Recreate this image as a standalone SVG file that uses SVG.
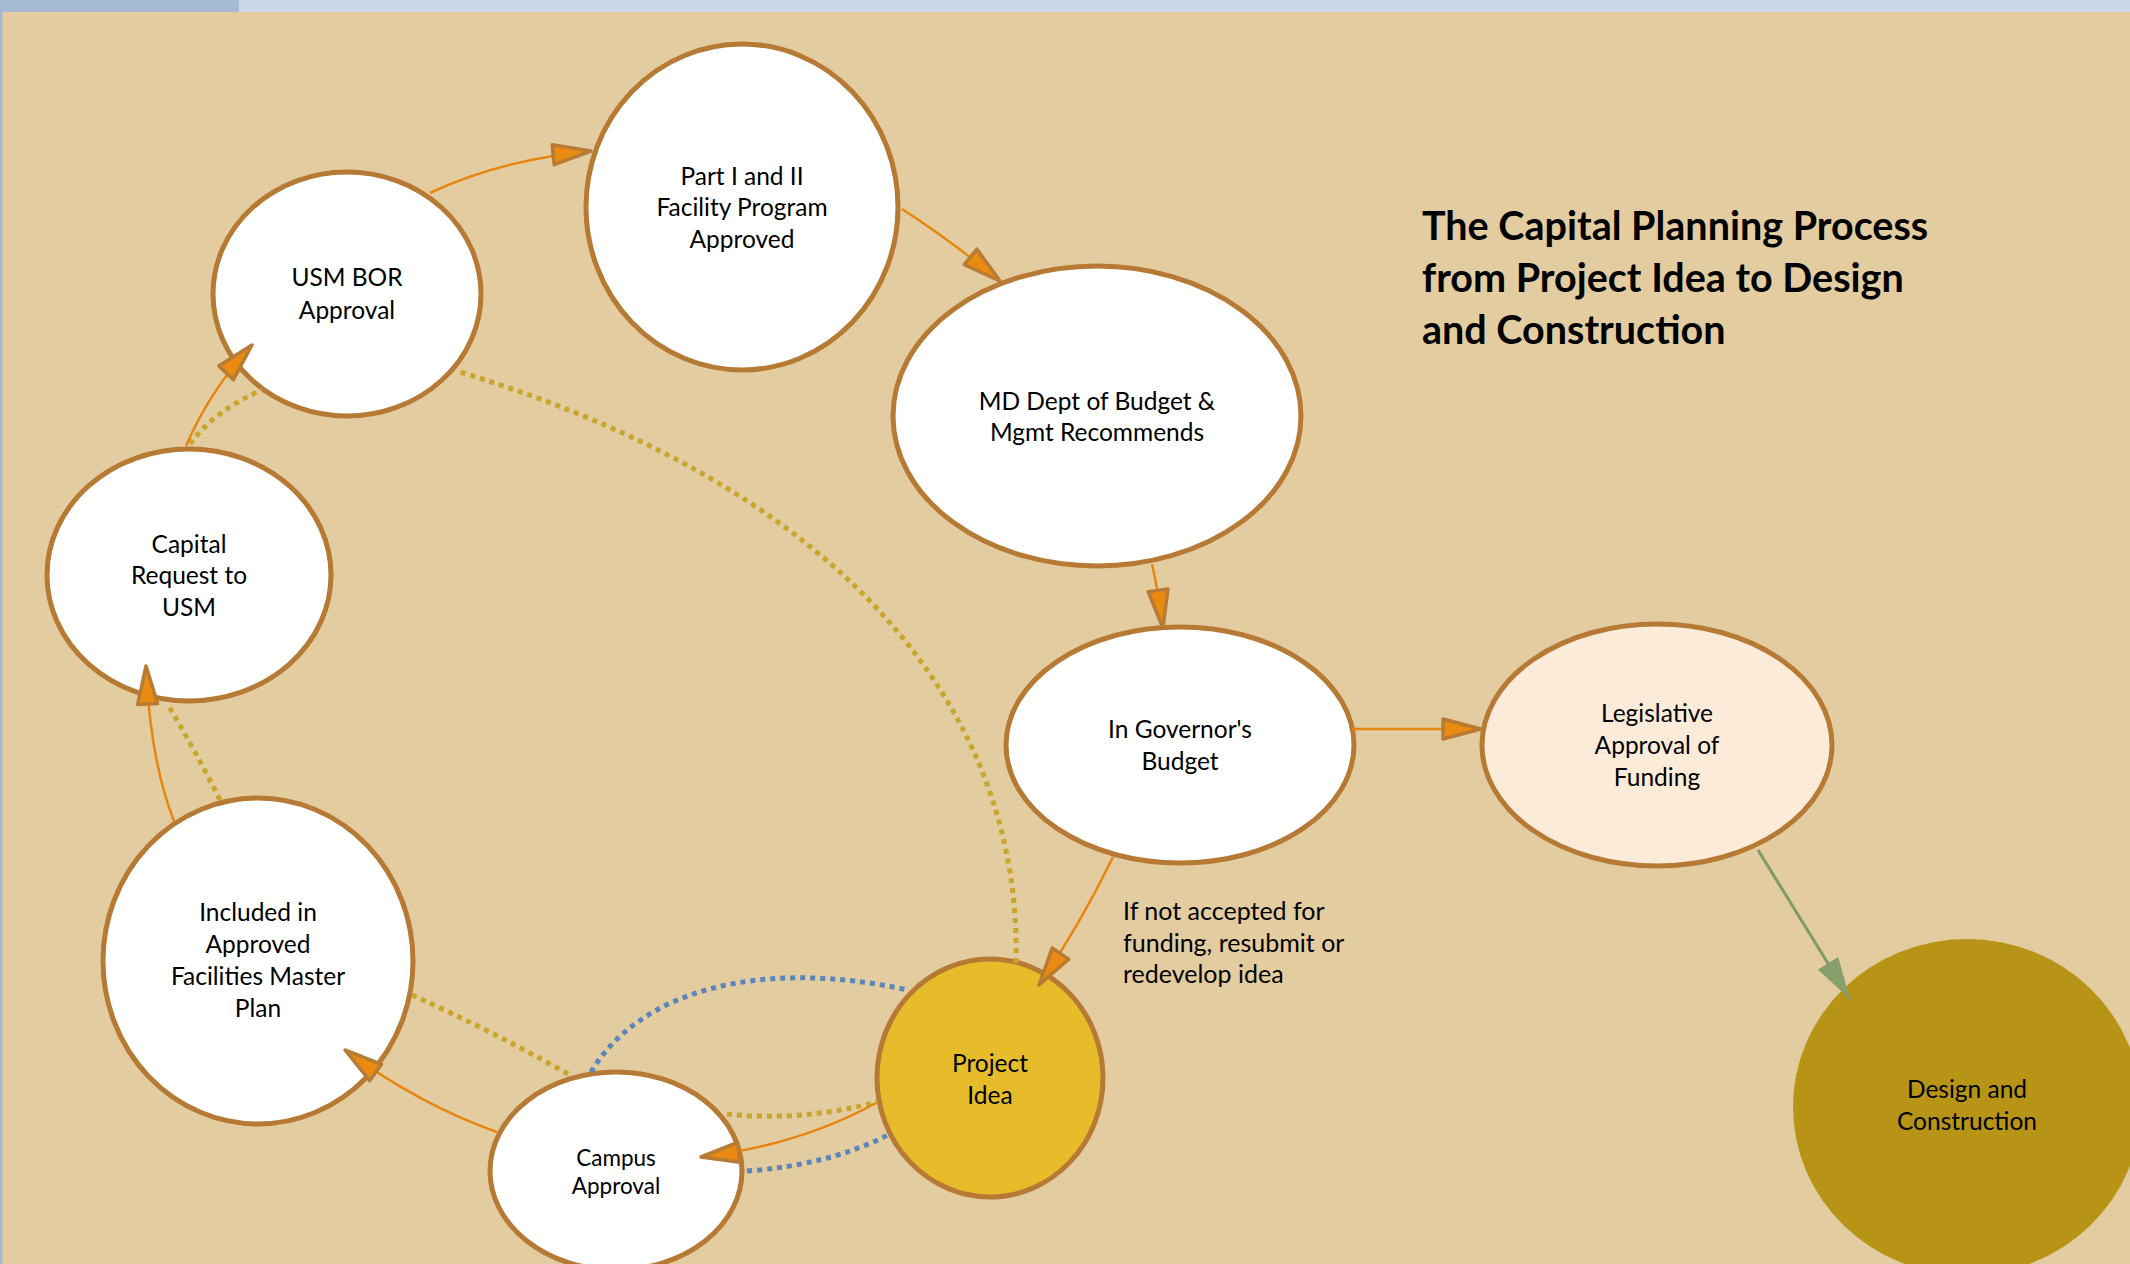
<svg xmlns="http://www.w3.org/2000/svg" width="2130" height="1264" viewBox="0 0 2130 1264">
<defs>
<style>
.node{stroke:#B67A34;stroke-width:5;fill:#FFFFFF}
.lbl{font-family:Lato,"Open Sans","Liberation Sans",sans-serif;font-size:24.5px;fill:#000;text-anchor:middle}
.sm{font-size:22.5px}
.title{font-family:Lato,"Open Sans","Liberation Sans",sans-serif;font-size:39.5px;font-weight:bold;fill:#000}
.note{font-family:Lato,"Open Sans","Liberation Sans",sans-serif;font-size:25px;fill:#000}
.flow{fill:none;stroke:#E8850F;stroke-width:2.5;marker-end:url(#arr)}
.gold{fill:none;stroke:#C9A52B;stroke-width:5;stroke-dasharray:5 5}
.blue{fill:none;stroke:#5B86B8;stroke-width:5;stroke-dasharray:5 5}
.green{fill:none;stroke:#7F9A6A;stroke-width:3;marker-end:url(#garr)}
</style>
<marker id="arr" viewBox="0 0 44 26" refX="41" refY="13" markerWidth="44" markerHeight="26" markerUnits="userSpaceOnUse" orient="auto">
<path d="M3,3 L41,13 L3,23 Z" fill="#EA8A10" stroke="#B87B34" stroke-width="3.5" stroke-linejoin="round"/>
</marker>
<marker id="garr" viewBox="0 0 42 26" refX="42" refY="13" markerWidth="42" markerHeight="26" markerUnits="userSpaceOnUse" orient="auto">
<path d="M0,1 L42,13 L0,25 Z" fill="#889E6B"/>
</marker>
</defs>
<rect x="0" y="0" width="2130" height="1264" fill="#E2CCA0"/>
<rect x="0" y="0" width="2130" height="12" fill="#CBD8E8"/>
<rect x="0" y="0" width="239" height="12" fill="#A7BAD3"/>
<rect x="0" y="0" width="2.5" height="1264" fill="#A7BAD3"/>

<g id="node-usm-bor">
<ellipse class="node" cx="347" cy="294" rx="134" ry="122"/>
<text class="lbl" x="347" y="286">USM BOR</text>
<text class="lbl" x="347" y="319">Approval</text>
</g>
<g id="node-part-i-ii">
<ellipse class="node" cx="742" cy="207" rx="156" ry="163"/>
<text class="lbl" x="742" y="185">Part I and II</text>
<text class="lbl" x="742" y="216">Facility Program</text>
<text class="lbl" x="742" y="248">Approved</text>
</g>
<g id="node-md-dept">
<ellipse class="node" cx="1097" cy="416" rx="204" ry="150"/>
<text class="lbl" x="1097" y="410">MD Dept of Budget &amp;</text>
<text class="lbl" x="1097" y="441">Mgmt Recommends</text>
</g>
<g id="node-governor">
<ellipse class="node" cx="1180" cy="745" rx="174" ry="118"/>
<text class="lbl" x="1180" y="738">In Governor's</text>
<text class="lbl" x="1180" y="770">Budget</text>
</g>
<g id="node-legislative">
<ellipse class="node" cx="1657" cy="745" rx="175" ry="121" style="fill:#FDEBDA"/>
<text class="lbl" x="1657" y="722">Legislative</text>
<text class="lbl" x="1657" y="754">Approval of</text>
<text class="lbl" x="1657" y="786">Funding</text>
</g>
<g id="node-design">
<ellipse cx="1967" cy="1107" rx="174" ry="168" fill="#B79416"/>
<text class="lbl" x="1967" y="1098">Design and</text>
<text class="lbl" x="1967" y="1130">Construction</text>
</g>
<g id="node-project-idea">
<ellipse class="node" cx="990" cy="1078" rx="113" ry="119" style="fill:#E6BC2A"/>
<text class="lbl" x="990" y="1072">Project</text>
<text class="lbl" x="990" y="1104">Idea</text>
</g>
<g id="node-campus">
<ellipse class="node" cx="616" cy="1171" rx="126" ry="99"/>
<text class="lbl sm" x="616" y="1166">Campus</text>
<text class="lbl sm" x="616" y="1194">Approval</text>
</g>
<g id="node-afmp">
<ellipse class="node" cx="258" cy="961" rx="155" ry="163"/>
<text class="lbl" x="258" y="921">Included in</text>
<text class="lbl" x="258" y="953">Approved</text>
<text class="lbl" x="258" y="985">Facilities Master</text>
<text class="lbl" x="258" y="1017">Plan</text>
</g>
<g id="node-capital-request">
<ellipse class="node" cx="189" cy="575" rx="142" ry="126"/>
<text class="lbl" x="189" y="553">Capital</text>
<text class="lbl" x="189" y="584">Request to</text>
<text class="lbl" x="189" y="616">USM</text>
</g>

<g id="connectors">
<path class="gold" d="M1016,963 C1022,740 880,500 460,372"/>
<path class="gold" d="M190,444 Q215,410 262,390"/>
<path class="gold" d="M220,800 Q195,750 168,705"/>
<path class="gold" d="M412,995 Q490,1030 570,1075"/>
<path class="gold" d="M727,1114 Q800,1122 877,1102"/>
<path class="blue" d="M591,1072 C640,990 760,958 908,990"/>
<path class="blue" d="M747,1171 Q830,1165 890,1134"/>
<path class="flow" d="M497,1132 Q420,1105 345,1050"/>
<path class="flow" d="M174,821 Q150,760 146,666"/>
<path class="flow" d="M186,446 Q210,390 252,345"/>
<path class="flow" d="M430,193 Q500,160 591,151"/>
<path class="flow" d="M902,209 Q950,240 1000,281"/>
<path class="flow" d="M1152,564 Q1158,590 1163,628"/>
<path class="flow" d="M1352,729 L1481,729"/>
<path class="flow" d="M1113,857 Q1080,925 1039,985"/>
<path class="flow" d="M876,1103 Q800,1145 701,1157"/>
<path class="green" d="M1758,850 L1850,999"/>
</g>

<g id="title">
<text class="title" x="1422" y="240">The Capital Planning Process</text>
<text class="title" x="1422" y="292">from Project Idea to Design</text>
<text class="title" x="1422" y="344">and Construction</text>
</g>
<g id="note">
<text class="note" x="1123" y="920">If not accepted for</text>
<text class="note" x="1123" y="952">funding, resubmit or</text>
<text class="note" x="1123" y="983">redevelop idea</text>
</g>
</svg>
